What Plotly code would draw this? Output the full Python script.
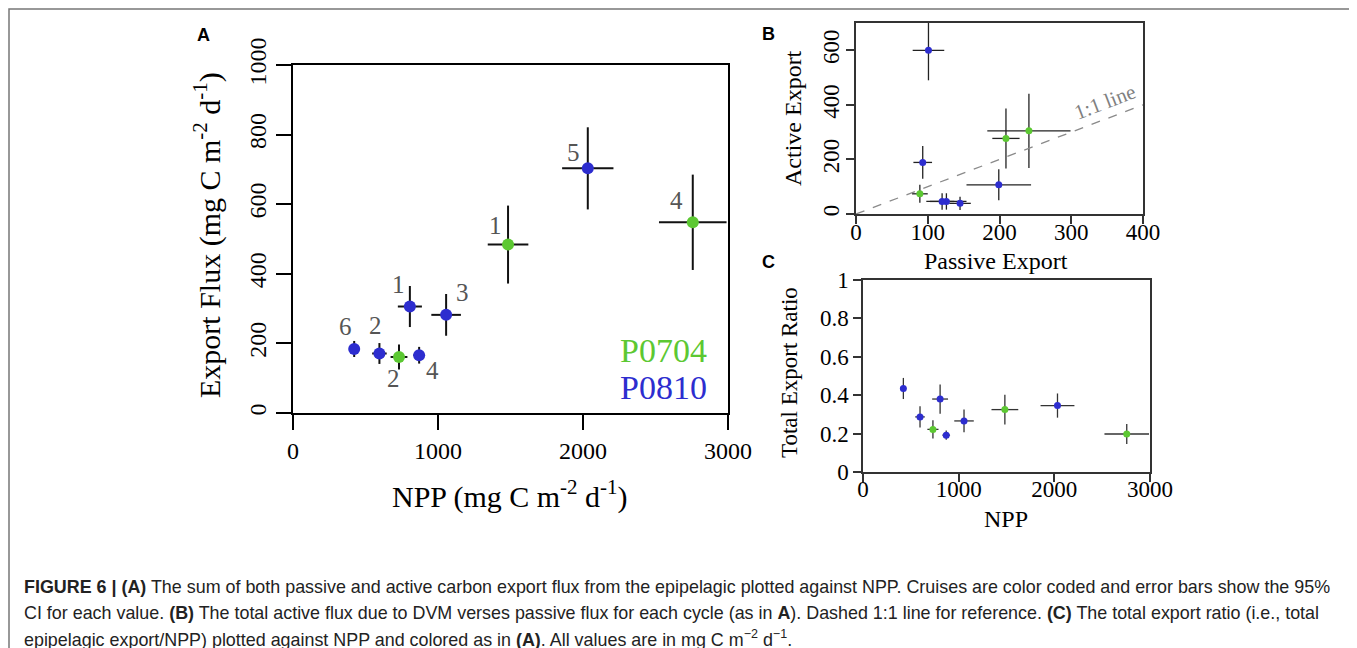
import plotly.graph_objects as go

# cruise P0704 (green)
p0704_cycle = ['1', '2', '4']
p0704_npp = [1483, 731, 2757]
p0704_npp_err = [140, 58, 233]
p0704_total = [484, 161, 548]
p0704_total_err = [112, 36, 137]
p0704_passive = [209, 89, 241]
p0704_passive_err = [19, 11, 58]
p0704_active = [277, 74, 305]
p0704_active_err = [110, 33, 136]
p0704_ratio = [0.325, 0.222, 0.198]
p0704_ratio_err = [0.077, 0.047, 0.052]

# cruise P0810 (blue)
p0810_cycle = ['1', '2', '3', '4', '5', '6']
p0810_npp = [806, 596, 1056, 870, 2033, 422]
p0810_npp_err = [83, 50, 102, 40, 177, 25]
p0810_total = [306, 171, 282, 166, 703, 184]
p0810_total_err = [59, 30, 60, 24, 118, 23]
p0810_passive = [199, 126, 93, 120, 101, 145]
p0810_passive_err = [45, 28, 13, 17, 22, 15]
p0810_active = [107, 46, 189, 46, 600, 39]
p0810_active_err = [57, 30, 60, 30, 110, 24]
p0810_ratio = [0.380, 0.287, 0.266, 0.192, 0.346, 0.435]
p0810_ratio_err = [0.076, 0.055, 0.059, 0.024, 0.063, 0.055]

one_to_one = [0, 400]

GREEN = '#5cc832'
BLUE = '#2d2dcf'
SERIF = 'Liberation Serif'
SANS = 'Liberation Sans'
W, H = 1357, 648
OFF = 8  # page body margin

def px(x):
    return (x - OFF) / W

def py(y):
    return 1 - (y - OFF) / H

fig = go.Figure()

cruises = [
    (GREEN, p0704_npp, p0704_npp_err, p0704_total, p0704_total_err, p0704_passive,
     p0704_passive_err, p0704_active, p0704_active_err, p0704_ratio, p0704_ratio_err),
    (BLUE, p0810_npp, p0810_npp_err, p0810_total, p0810_total_err, p0810_passive,
     p0810_passive_err, p0810_active, p0810_active_err, p0810_ratio, p0810_ratio_err),
]

for col, npp, npp_e, tot, tot_e, pas, pas_e, act, act_e, rat, rat_e in cruises:
    # panel A
    fig.add_trace(go.Scatter(x=npp, y=tot, mode='markers', xaxis='x', yaxis='y',
                             marker=dict(color=col, size=12),
                             error_x=dict(type='data', array=npp_e, color='#111', thickness=2, width=0),
                             error_y=dict(type='data', array=tot_e, color='#111', thickness=2, width=0),
                             showlegend=False))
    # panel B
    fig.add_trace(go.Scatter(x=pas, y=act, mode='markers', xaxis='x2', yaxis='y2',
                             marker=dict(color=col, size=7),
                             error_x=dict(type='data', array=pas_e, color='#222', thickness=1.3, width=0),
                             error_y=dict(type='data', array=act_e, color='#222', thickness=1.3, width=0),
                             showlegend=False))
    # panel C
    fig.add_trace(go.Scatter(x=npp, y=rat, mode='markers', xaxis='x3', yaxis='y3',
                             marker=dict(color=col, size=7),
                             error_x=dict(type='data', array=npp_e, color='#333', thickness=1.3, width=0),
                             error_y=dict(type='data', array=rat_e, color='#333', thickness=1.3, width=0),
                             showlegend=False))

# 1:1 line
fig.add_trace(go.Scatter(x=one_to_one, y=one_to_one, mode='lines', xaxis='x2', yaxis='y2',
                         line=dict(color='#8a8a8a', width=1.3, dash='dash'), showlegend=False))

# cycle number labels in A (pixel offsets from each point)
offsets_0704 = {'1': (-13, 19), '2': (-6, -22), '4': (-16, 22)}
offsets_0810 = {'1': (-11, 22), '2': (-4, 28), '3': (16, 22), '4': (13, -15), '5': (-14, 16), '6': (-9, 22)}
ann = []
for cyc, xs, ys, offs in [(p0704_cycle, p0704_npp, p0704_total, offsets_0704),
                          (p0810_cycle, p0810_npp, p0810_total, offsets_0810)]:
    for c, xv, yv in zip(cyc, xs, ys):
        dx, dy = offs[c]
        ann.append(dict(x=xv, y=yv, xref='x', yref='y', text=c, showarrow=False,
                        xshift=dx, yshift=dy, font=dict(family=SERIF, size=25, color='#555')))

def txt(x, y, s, size, angle=0, color='black', family=SERIF, xanchor='center'):
    ann.append(dict(x=px(x), y=py(y), xref='paper', yref='paper', text=s, showarrow=False,
                    textangle=angle, xanchor=xanchor, yanchor='middle',
                    font=dict(family=family, size=size, color=color)))

# axis titles
txt(207, 235, 'Export Flux (mg C m<sup>-2</sup> d<sup>-1</sup>)', 30, -90)
txt(510, 494, 'NPP (mg C m<sup>-2</sup> d<sup>-1</sup>)', 30)
txt(793, 118, 'Active Export', 24, -90)
txt(996, 261, 'Passive Export', 24)
txt(790, 373, 'Total Export Ratio', 23, -90)
txt(1006, 519, 'NPP', 24)

# legend text
txt(663, 350, 'P0704', 34, color=GREEN)
txt(663, 387, 'P0810', 34, color=BLUE)

# 1:1 label
ann.append(dict(x=347, y=412, xref='x2', yref='y2', text='1:1 line', showarrow=False,
                textangle=-21, font=dict(family=SERIF, size=21, color='#808080')))

# panel letters
txt(203, 35, '<b>A</b>', 18, family=SANS)
txt(768, 34, '<b>B</b>', 18, family=SANS)
txt(768, 262, '<b>C</b>', 18, family=SANS)

# caption
cap = [
    '<b>FIGURE 6 | (A)</b> The sum of both passive and active carbon export flux from the epipelagic plotted against NPP. '
    'Cruises are color coded and error bars show the 95%',
    'CI for each value. <b>(B)</b> The total active flux due to DVM verses passive flux for each cycle (as in <b>A</b>). '
    'Dashed 1:1 line for reference. <b>(C)</b> The total export ratio (i.e., total',
    'epipelagic export/NPP) plotted against NPP and colored as in <b>(A)</b>. All values are in mg C m<sup>−2</sup> d<sup>−1</sup>.',
]
for i, line in enumerate(cap):
    txt(22, 587 + 25.5 * i, line, 17.9, color='#222', family=SANS, xanchor='left')

axA = dict(showline=True, mirror=True, linecolor='black', linewidth=2, ticks='outside',
           ticklen=15, tickwidth=2, tickcolor='black', showgrid=False, zeroline=False,
           automargin=False, tickfont=dict(family=SERIF, size=24, color='black'))
axS = dict(showline=True, mirror=True, linecolor='#333', linewidth=1.5, ticks='outside',
           ticklen=8, tickwidth=1.5, tickcolor='#333', showgrid=False, zeroline=False,
           automargin=False, tickfont=dict(family=SERIF, size=23, color='black'))

fig.update_layout(
    width=W, height=H, autosize=False,
    margin=dict(l=0, r=0, t=0, b=0, pad=0, autoexpand=False),
    paper_bgcolor='white', plot_bgcolor='white',
    xaxis=dict(axA, domain=[px(293), px(728)], range=[0, 3000], tickvals=[0, 1000, 2000, 3000], anchor='y'),
    yaxis=dict(axA, domain=[py(413), py(65)], range=[0, 1000], tickvals=[0, 200, 400, 600, 800, 1000],
               tickangle=-90, anchor='x'),
    xaxis2=dict(axS, domain=[px(856), px(1143)], range=[0, 400], tickvals=[0, 100, 200, 300, 400],
                ticklabelstandoff=-11, anchor='y2'),
    yaxis2=dict(axS, domain=[py(214), py(23)], range=[0, 700], tickvals=[0, 200, 400, 600],
                tickangle=-90, ticklabelstandoff=-2, anchor='x2'),
    xaxis3=dict(axS, domain=[px(863), px(1150)], range=[0, 3000], tickvals=[0, 1000, 2000, 3000],
                ticklabelstandoff=-12, anchor='y3'),
    yaxis3=dict(axS, domain=[py(472), py(280)], range=[0, 1], tickvals=[0, 0.2, 0.4, 0.6, 0.8, 1],
                ticktext=['0', '0.2', '0.4', '0.6', '0.8', '1'], anchor='x3'),
    annotations=ann,
    shapes=[dict(type='rect', xref='paper', yref='paper', x0=px(9), x1=px(1354), y0=py(652), y1=py(9),
                 line=dict(color='#777', width=1.5))],
)

fig.write_html("out.html")
